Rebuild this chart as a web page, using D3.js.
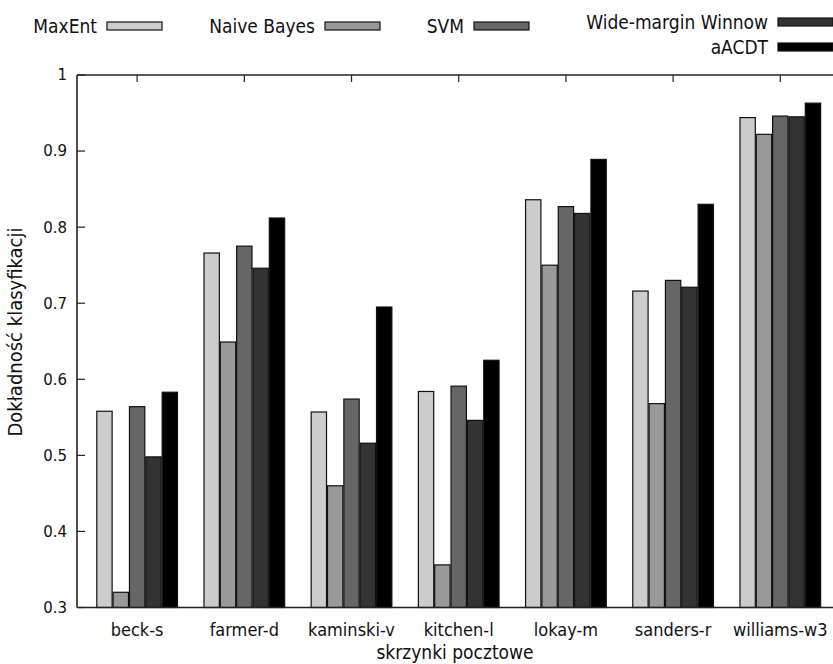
<!DOCTYPE html>
<html>
<head>
<meta charset="utf-8">
<script src="https://cdn.jsdelivr.net/npm/d3@7"></script>
<style>
  body { margin: 0; background: #fff; }
  svg { display: block; }
  .narrow { font-family: 'DejaVu Sans Condensed', 'Liberation Sans Narrow', 'DejaVu Sans', sans-serif; }
  .tick-label { font-family: 'DejaVu Sans', sans-serif; font-size: 15px; }
</style>
</head>
<body>
<svg width="833" height="664"></svg>
<script>
// data
const mailboxes = ['beck-s', 'farmer-d', 'kaminski-v', 'kitchen-l', 'lokay-m', 'sanders-r', 'williams-w3'];
const methods = ['MaxEnt', 'Naive Bayes', 'SVM', 'Wide-margin Winnow', 'aACDT'];
const maxEnt = [0.558, 0.766, 0.557, 0.584, 0.836, 0.716, 0.944];
const naiveBayes = [0.320, 0.649, 0.460, 0.356, 0.750, 0.568, 0.922];
const svmAcc = [0.564, 0.775, 0.574, 0.591, 0.827, 0.730, 0.946];
const winnow = [0.498, 0.746, 0.516, 0.546, 0.818, 0.721, 0.945];
const aacdt = [0.583, 0.812, 0.695, 0.625, 0.889, 0.830, 0.963];
const yTicks = [0.3, 0.4, 0.5, 0.6, 0.7, 0.8, 0.9, 1];

const fills = ['#cccccc', '#999999', '#666666', '#333333', '#000000'];
const seriesValues = [maxEnt, naiveBayes, svmAcc, winnow, aacdt];

const PLOT = { left: 77, right: 834, top: 75, bottom: 607.5 };

const svg = d3.select('svg');

const x = d3
  .scaleBand()
  .domain(mailboxes)
  .range([PLOT.left, PLOT.right])
  .paddingInner(0.238)
  .paddingOuter(0.15)
  .align(0.6);

const xSub = d3.scaleBand().domain(methods).range([0, x.bandwidth()]);

const y = d3.scaleLinear().domain([0.3, 1]).range([PLOT.bottom, PLOT.top]);

const rows = mailboxes.map((m, i) => ({
  mailbox: m,
  values: methods.map((name, k) => ({ name: name, value: seriesValues[k][i], fill: fills[k] }))
}));

// x ticks (bottom and mirrored top), drawn under bars
const tickG = svg.append('g').attr('stroke', '#222').attr('stroke-width', 1.2);
mailboxes.forEach((m) => {
  const cx = x(m) + x.bandwidth() / 2;
  tickG.append('line').attr('x1', cx).attr('x2', cx).attr('y1', PLOT.bottom).attr('y2', PLOT.bottom - 7);
  tickG.append('line').attr('x1', cx).attr('x2', cx).attr('y1', PLOT.top).attr('y2', PLOT.top + 7);
});

// y ticks
yTicks.forEach((t) => {
  tickG.append('line').attr('x1', PLOT.left).attr('x2', PLOT.left + 8).attr('y1', y(t)).attr('y2', y(t));
});

// bars
const groups = svg
  .append('g')
  .selectAll('g')
  .data(rows)
  .join('g')
  .attr('transform', (d) => `translate(${x(d.mailbox)},0)`);

groups
  .selectAll('rect')
  .data((d) => d.values)
  .join('rect')
  .attr('x', (d) => xSub(d.name) + 0.5)
  .attr('y', (d) => y(d.value))
  .attr('width', xSub.bandwidth() - 1)
  .attr('height', (d) => PLOT.bottom - y(d.value))
  .attr('fill', (d) => d.fill)
  .attr('stroke', '#111')
  .attr('stroke-width', 1.2);

// frame
const frame = svg.append('g').attr('stroke', '#222').attr('stroke-width', 1.6).attr('fill', 'none');
frame.append('line').attr('x1', PLOT.left).attr('x2', PLOT.left).attr('y1', PLOT.top).attr('y2', PLOT.bottom);
frame.append('line').attr('x1', PLOT.left).attr('x2', PLOT.right).attr('y1', PLOT.top).attr('y2', PLOT.top);
frame.append('line').attr('x1', PLOT.left).attr('x2', PLOT.right).attr('y1', PLOT.bottom).attr('y2', PLOT.bottom);
frame.append('line').attr('x1', PLOT.right).attr('x2', PLOT.right).attr('y1', PLOT.top).attr('y2', PLOT.bottom);

// y tick labels
svg
  .append('g')
  .selectAll('text')
  .data(yTicks)
  .join('text')
  .attr('class', 'tick-label')
  .attr('x', PLOT.left - 10)
  .attr('y', (d) => y(d))
  .attr('dy', '0.36em')
  .attr('text-anchor', 'end')
  .attr('fill', '#111')
  .text((d) => d3.format('~g')(d));

// x tick labels
svg
  .append('g')
  .selectAll('text')
  .data(mailboxes)
  .join('text')
  .attr('class', 'narrow')
  .style('font-size', '18px')
  .attr('x', (d) => x(d) + x.bandwidth() / 2)
  .attr('y', PLOT.bottom + 28)
  .attr('text-anchor', 'middle')
  .attr('fill', '#111')
  .text((d) => d);

// axis titles
svg
  .append('text')
  .attr('class', 'narrow')
  .style('font-size', '19px')
  .attr('x', 455)
  .attr('y', 659)
  .attr('text-anchor', 'middle')
  .attr('fill', '#111')
  .text('skrzynki pocztowe');

svg
  .append('text')
  .attr('class', 'narrow')
  .style('font-size', '20px')
  .attr('transform', 'translate(22,332) rotate(-90)')
  .attr('text-anchor', 'middle')
  .attr('fill', '#111')
  .text('Dokładność klasyfikacji');

// legend
const legendPos = [
  { sx: 107, sy: 26 },
  { sx: 325, sy: 26 },
  { sx: 474, sy: 26 },
  { sx: 778, sy: 22 },
  { sx: 778, sy: 47 }
];
const legend = svg
  .append('g')
  .selectAll('g')
  .data(methods)
  .join('g')
  .attr('transform', (d, i) => `translate(${legendPos[i].sx},${legendPos[i].sy})`);

legend
  .append('rect')
  .attr('x', 0)
  .attr('y', -4)
  .attr('width', 55)
  .attr('height', 8)
  .attr('fill', (d, i) => fills[i])
  .attr('stroke', '#111')
  .attr('stroke-width', 1.2);

legend
  .append('text')
  .attr('class', 'narrow')
  .style('font-size', '19px')
  .attr('x', -10)
  .attr('dy', '0.35em')
  .attr('text-anchor', 'end')
  .attr('fill', '#111')
  .text((d) => d);
</script>
</body>
</html>
